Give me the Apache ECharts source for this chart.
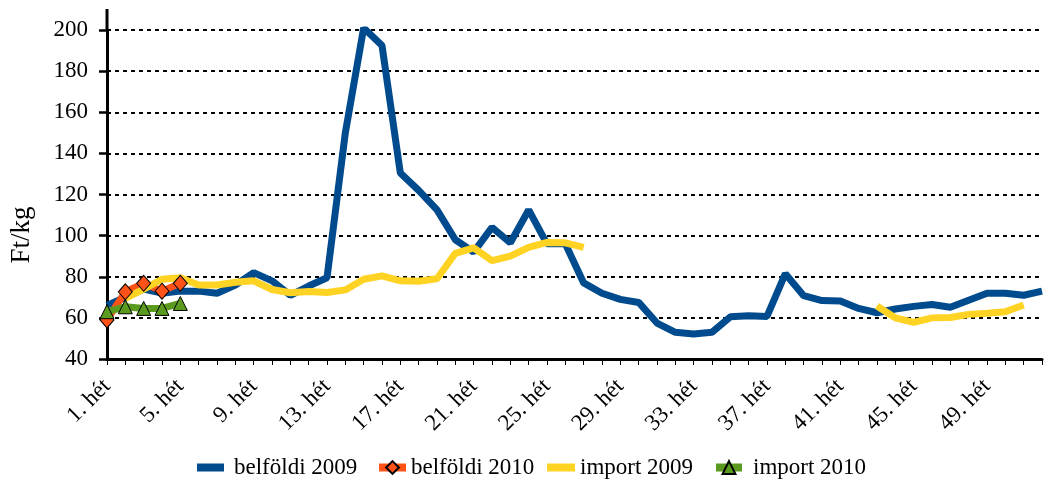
<!DOCTYPE html>
<html>
<head>
    <meta charset="utf-8"/>
    <title>ECharts</title>
    <script type="text/javascript" src="https://cdn.jsdelivr.net/npm/echarts@6/dist/echarts.min.js"></script>
    <style>
        html, body { margin: 0; padding: 0; background: #fff; }
        #main { width: 1046px; height: 484px; }
    </style>
</head>
<body>
<div id="main"></div>
<script type="text/javascript">
    // heti kategóriák: 1. hét ... 52. hét
    var weeks = [];
    for (var w = 1; w <= 52; w++) { weeks.push(w + '. hét'); }

    var belfoldi2009 = [66, 70, 74, 72, 73, 73, 72, 76, 82, 78,
        71, 75.5, 79.5, 150, 201, 192.5, 130.5, 122, 112.5, 98,
        92, 104, 96.5, 112.5, 96, 96, 77, 72, 69, 67.5,
        57.5, 53, 52.2, 53, 60.5, 61, 60.7, 81.5, 70.8, 68.4,
        68.2, 64.6, 62.5, 64.3, 65.6, 66.5, 65.2, 68.6, 72, 72,
        71, 73];
    var belfoldi2010 = [59, 72.7, 76.8, 73, 76.8];
    var import2009 = [null, 69.5, 74, 78.8, 79.5, 76, 76, 77.3, 78, 73.8,
        72.2, 72.8, 72.3, 73.6, 78.8, 80.4, 78, 77.8, 79, 91.4,
        94, 87.8, 90, 94.3, 96.7, 96.5, 94.3, null, null, null,
        null, null, null, null, null, null, null, null, null, null,
        null, null, 65.8, 60, 57.8, 60, 60.2, 61.7, 62.2, 63,
        66.3, null];
    var import2010 = [63, 65.4, 64.6, 64.6, 67];

    var yMin = 40, yMax = 200, yStep = 20;
    var fontFam = '"Liberation Serif", serif';
    var legendText = { fontFamily: fontFam, fontSize: 23, color: '#000' };

    var myChart = echarts.init(document.getElementById('main'));
    var option = {
        animation: false,
        textStyle: { fontFamily: fontFam, color: '#000' },
        grid: { left: 107, right: 4, top: 30, bottom: 125, containLabel: false },
        // egy jelmagyarázat elemenként, hogy a jelek mérete eltérhessen
        legend: [
            {
                data: ['belföldi 2009'], left: 197, top: 456, padding: 0,
                icon: 'rect', itemWidth: 27, itemHeight: 8,
                textStyle: Object.assign({ padding: [0, 0, 0, 5] }, legendText)
            },
            {
                data: ['belföldi 2010'], left: 375, top: 456, padding: 0,
                itemWidth: 27, itemHeight: 16,
                lineStyle: { width: 8 },
                textStyle: legendText
            },
            {
                data: ['import 2009'], left: 547, top: 456, padding: 0,
                icon: 'rect', itemWidth: 28, itemHeight: 8,
                textStyle: legendText
            },
            {
                data: ['import 2010'], left: 712, top: 456, padding: 0,
                itemWidth: 26, itemHeight: 16,
                lineStyle: { width: 8 },
                textStyle: Object.assign({ padding: [0, 0, 0, 6] }, legendText)
            }
        ],
        xAxis: {
            type: 'category',
            data: weeks,
            boundaryGap: false,
            axisLine: { lineStyle: { color: '#000', width: 3 } },
            axisTick: { interval: 0, length: 6, lineStyle: { color: '#000', width: 1 } },
            axisLabel: { interval: 3, rotate: 45, margin: 24, fontFamily: fontFam, fontSize: 23, color: '#000' },
            splitLine: { show: false }
        },
        yAxis: {
            type: 'value',
            min: yMin,
            max: yMax,
            interval: yStep,
            axisLine: { show: true, lineStyle: { color: '#000', width: 3 } },
            axisTick: { show: true, length: 8, lineStyle: { color: '#000', width: 2.5 } },
            axisLabel: { margin: 19, fontFamily: fontFam, fontSize: 23, color: '#000' },
            splitLine: { show: true, lineStyle: { color: '#000', width: 2, type: [4, 4] } }
        },
        graphic: [
            {   // tengely folytatása 200 fölött
                type: 'line',
                shape: { x1: 107, y1: 9, x2: 107, y2: 30 },
                style: { stroke: '#000', lineWidth: 3 }
            },
            {
                type: 'text',
                x: 22, y: 235,
                rotation: Math.PI / 2,
                style: { text: 'Ft/kg', font: '27px ' + fontFam, fill: '#000', align: 'center', verticalAlign: 'middle' }
            }
        ],
        series: [
            {
                name: 'belföldi 2009',
                type: 'line',
                data: belfoldi2009,
                symbol: 'none',
                lineStyle: { color: '#004B8D', width: 7 },
                itemStyle: { color: '#004B8D' }
            },
            {
                name: 'belföldi 2010',
                type: 'line',
                data: belfoldi2010,
                symbol: 'diamond',
                symbolSize: [14, 16],
                showAllSymbol: true,
                lineStyle: { color: '#FF5219', width: 7 },
                itemStyle: { color: '#FF5219', borderColor: '#000', borderWidth: 1 }
            },
            {
                name: 'import 2009',
                type: 'line',
                data: import2009,
                symbol: 'none',
                connectNulls: false,
                lineStyle: { color: '#FFD324', width: 7 },
                itemStyle: { color: '#FFD324' }
            },
            {
                name: 'import 2010',
                type: 'line',
                data: import2010,
                symbol: 'triangle',
                symbolSize: 14,
                showAllSymbol: true,
                lineStyle: { color: '#5A9A1E', width: 7 },
                itemStyle: { color: '#5A9A1E', borderColor: '#000', borderWidth: 1 }
            }
        ]
    };
    myChart.setOption(option);
</script>
</body>
</html>
